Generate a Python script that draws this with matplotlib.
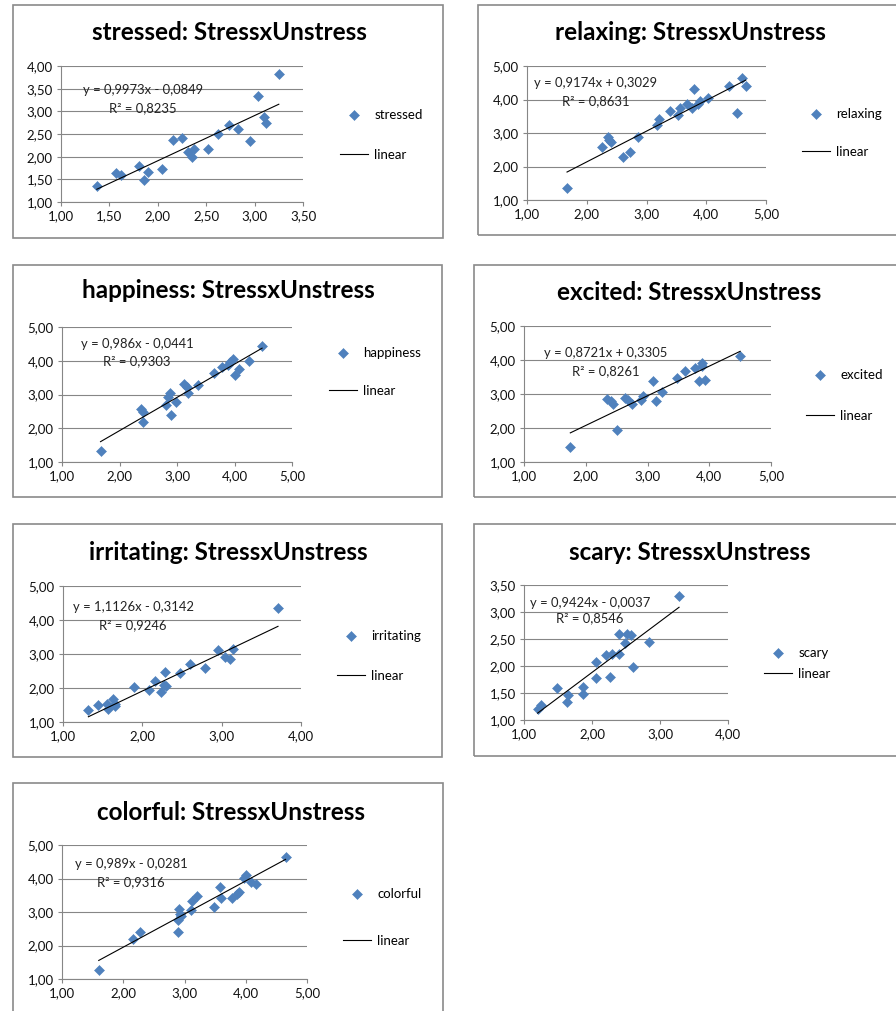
import numpy as np
import matplotlib
matplotlib.use('Agg')
import matplotlib.pyplot as plt
from matplotlib.patches import Rectangle
from matplotlib.ticker import FuncFormatter, MultipleLocator

W, H = 896, 1011
BLUE = '#4F81BD'
AXIS = '#868686'
GRID = '#868686'

plt.rcParams['font.family'] = ['Lato', 'DejaVu Sans']

# values (x = Stress, y = Unstress)
stressed_x = [1.37, 1.57, 1.62, 1.81, 1.86, 1.90, 2.04, 2.16, 2.25, 2.31, 2.35, 2.37,
              2.52, 2.62, 2.74, 2.83, 2.95, 3.04, 3.10, 3.12, 3.25]
stressed_y = [1.35, 1.63, 1.60, 1.80, 1.49, 1.67, 1.73, 2.37, 2.42, 2.11, 2.00, 2.18,
              2.17, 2.51, 2.70, 2.61, 2.35, 3.34, 2.88, 2.75, 3.82]

relaxing_x = [1.67, 2.26, 2.36, 2.38, 2.41, 2.61, 2.73, 2.85, 3.18, 3.21, 3.39, 3.53,
              3.56, 3.68, 3.76, 3.79, 3.86, 3.90, 4.03, 4.38, 4.51, 4.60, 4.66]
relaxing_y = [1.35, 2.59, 2.89, 2.79, 2.74, 2.27, 2.44, 2.87, 3.23, 3.43, 3.65, 3.53,
              3.76, 3.86, 3.76, 4.30, 3.88, 3.96, 4.05, 4.40, 3.61, 4.64, 4.40]

happiness_x = [1.67, 2.37, 2.41, 2.41, 2.81, 2.85, 2.87, 2.89, 2.99, 3.12, 3.17, 3.19,
               3.37, 3.65, 3.79, 3.89, 3.93, 3.97, 4.00, 4.08, 4.26, 4.48]
happiness_y = [1.32, 2.58, 2.48, 2.19, 2.68, 2.93, 3.03, 2.38, 2.78, 3.32, 3.22, 3.05,
               3.27, 3.64, 3.81, 3.88, 3.96, 4.06, 3.59, 3.77, 3.98, 4.44]

excited_x = [1.75, 2.35, 2.41, 2.44, 2.51, 2.63, 2.69, 2.75, 2.90, 2.93, 3.09, 3.14,
             3.23, 3.47, 3.61, 3.77, 3.83, 3.88, 3.89, 3.93, 4.50]
excited_y = [1.44, 2.85, 2.79, 2.72, 1.93, 2.89, 2.82, 2.72, 2.82, 2.95, 3.38, 2.79,
             3.06, 3.48, 3.68, 3.76, 3.38, 3.91, 3.81, 3.42, 4.13]

irritating_x = [1.32, 1.44, 1.55, 1.57, 1.63, 1.65, 1.66, 1.90, 2.09, 2.16, 2.23, 2.27,
                2.29, 2.30, 2.47, 2.60, 2.79, 2.96, 3.04, 3.11, 3.14, 3.71]
irritating_y = [1.36, 1.49, 1.53, 1.38, 1.68, 1.53, 1.46, 2.03, 1.93, 2.22, 1.88, 2.08,
                2.46, 2.05, 2.44, 2.70, 2.58, 3.12, 2.92, 2.85, 3.15, 4.34]

scary_x = [1.20, 1.25, 1.48, 1.63, 1.65, 1.87, 1.87, 2.06, 2.06, 2.20, 2.27, 2.29,
           2.39, 2.39, 2.48, 2.51, 2.57, 2.61, 2.84, 3.28]
scary_y = [1.20, 1.28, 1.60, 1.33, 1.46, 1.62, 1.49, 2.08, 1.78, 2.20, 1.80, 2.23,
           2.22, 2.60, 2.42, 2.59, 2.57, 1.99, 2.45, 3.29]

colorful_x = [1.60, 2.16, 2.28, 2.89, 2.90, 2.91, 2.92, 2.95, 3.10, 3.13, 3.21, 3.48,
              3.58, 3.59, 3.78, 3.86, 3.89, 3.97, 4.00, 4.08, 4.17, 4.65]
colorful_y = [1.28, 2.19, 2.39, 2.39, 2.77, 3.09, 2.95, 2.87, 3.07, 3.32, 3.49, 3.14,
              3.76, 3.41, 3.41, 3.54, 3.61, 4.01, 4.11, 3.91, 3.84, 4.63]

names = ['stressed', 'relaxing', 'happiness', 'excited', 'irritating', 'scary', 'colorful']
xs = [stressed_x, relaxing_x, happiness_x, excited_x, irritating_x, scary_x, colorful_x]
ys = [stressed_y, relaxing_y, happiness_y, excited_y, irritating_y, scary_y, colorful_y]
slopes = [0.9973, 0.9174, 0.986, 0.8721, 1.1126, 0.9424, 0.989]
intercepts = [-0.0849, 0.3029, -0.0441, 0.3305, -0.3142, -0.0037, -0.0281]
r2s = [0.8235, 0.8631, 0.9303, 0.8261, 0.9246, 0.8546, 0.9316]
xmax = [3.5, 5, 5, 5, 4, 4, 5]
ymax = [4, 5, 5, 5, 5, 3.5, 5]
steps_x = [0.5, 1, 1, 1, 1, 1, 1]
steps_y = [0.5, 1, 1, 1, 1, 0.5, 1]

# layout in pixels
boxes = [(13, 5, 443, 238), (478, 5, 900, 235), (13, 265, 442, 497), (474, 265, 900, 497),
         (13, 524, 442, 757), (474, 524, 900, 756), (13, 783, 443, 1015)]
plots = [(61, 66, 303, 202), (527, 66, 766, 200), (62, 327, 292, 462), (524, 326, 771, 462),
         (63, 586, 301, 722), (524, 585, 728, 720), (62, 845, 307, 979)]
titles = [(229, 33), (690, 33), (228, 290), (689, 292), (228, 552), (690, 553), (231, 812)]
eqs = [(143, 90, 108), (596, 83, 101), (137, 344, 361), (606, 353, 371),
       (133, 607, 625), (590, 603, 618), (131, 864, 882)]
legs = [(340, 113, 157), (802, 112, 154), (329, 351, 393), (806, 373, 418),
        (337, 634, 678), (764, 651, 676), (343, 892, 943)]

TICK_FS = 9.5
TEXT_FS = 9.4
LEG_FS = 9.5
TITLE_FS = 17.5


def comma(v, pos=None):
    return ('%.2f' % v).replace('.', ',')


def num(v):
    s = ('%.4f' % abs(v)).rstrip('0').rstrip('.')
    return s.replace('.', ',')


fig = plt.figure(figsize=(W / 100, H / 100), dpi=100)

for i, name in enumerate(names):
    bx0, by0, bx1, by1 = boxes[i]
    fig.patches.append(Rectangle((bx0 / W, 1 - by1 / H), (bx1 - bx0) / W, (by1 - by0) / H,
                                 transform=fig.transFigure, fill=False, ec='#8a8a8a', lw=1.2))
    x0, y0, x1, y1 = plots[i]
    ax = fig.add_axes([x0 / W, 1 - y1 / H, (x1 - x0) / W, (y1 - y0) / H])
    ax.set_xlim(1, xmax[i])
    ax.set_ylim(1, ymax[i])
    ax.xaxis.set_major_locator(MultipleLocator(steps_x[i]))
    ax.yaxis.set_major_locator(MultipleLocator(steps_y[i]))
    ax.xaxis.set_major_formatter(FuncFormatter(comma))
    ax.yaxis.set_major_formatter(FuncFormatter(comma))
    ax.grid(True, axis='y', color=GRID, lw=0.8)
    ax.set_axisbelow(True)
    for s in ['top', 'right']:
        ax.spines[s].set_visible(False)
    for s in ['left', 'bottom']:
        ax.spines[s].set_color(AXIS)
        ax.spines[s].set_linewidth(0.8)
    ax.tick_params(direction='out', length=3, width=0.8, color=AXIS, labelsize=TICK_FS,
                   labelcolor='#111111', pad=3)

    ax.plot(xs[i], ys[i], 'D', ms=5.6, color=BLUE, mec=BLUE, mew=0.4, label=name,
            clip_on=False, zorder=3)
    tx = np.array([min(xs[i]), max(xs[i])])
    ax.plot(tx, slopes[i] * tx + intercepts[i], color='black', lw=0.8, label='linear', zorder=4)

    cx, cy = titles[i]
    fig.text(cx / W, 1 - cy / H, name + ': StressxUnstress', ha='center', va='center',
             fontsize=TITLE_FS, fontweight='bold', color='black')

    ex, ey1, ey2 = eqs[i]
    sign = '+' if intercepts[i] >= 0 else '-'
    fig.text(ex / W, 1 - ey1 / H, 'y = %sx %s %s' % (num(slopes[i]), sign, num(intercepts[i])),
             ha='center', va='center', fontsize=TEXT_FS, color='#222222')
    fig.text(ex / W, 1 - ey2 / H, 'R² = %s' % num(r2s[i]),
             ha='center', va='center', fontsize=TEXT_FS, color='#222222')

    lx, ly1, ly2 = legs[i]
    fpx = LEG_FS * 100 / 72
    spacing = max((ly2 - ly1 - 1.25 * fpx) / fpx, 0.2)
    ax.legend(loc='center left', bbox_to_anchor=(lx / W, 1 - (ly1 + ly2) / 2 / H),
              bbox_transform=fig.transFigure, frameon=False, fontsize=LEG_FS, numpoints=1,
              handlelength=2.1, handletextpad=0.5, labelspacing=spacing,
              borderpad=0, borderaxespad=0)

fig.savefig('out.png', dpi=100, facecolor='white')
